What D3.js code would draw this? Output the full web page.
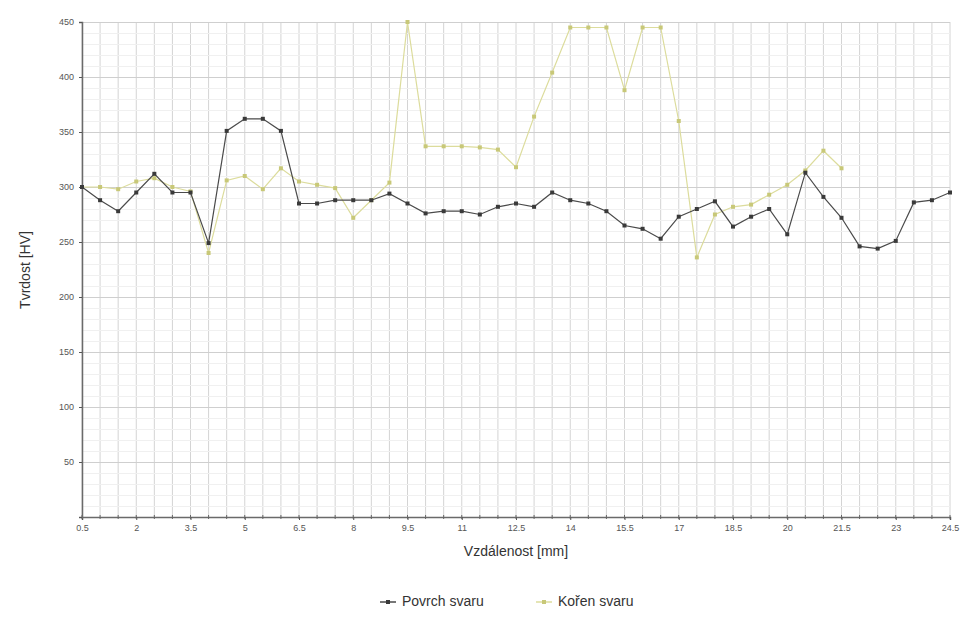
<!DOCTYPE html>
<html>
<head>
<meta charset="utf-8">
<script src="https://cdn.jsdelivr.net/npm/d3@7"></script>
<style>
  body { margin: 0; background: #fff; font-family: "Liberation Sans", Arial, sans-serif; }
</style>
</head>
<body>
<script>
// distances along the weld (mm)
var distances = [0.5,1,1.5,2,2.5,3,3.5,4,4.5,5,5.5,6,6.5,7,7.5,8,8.5,9,9.5,10,10.5,11,11.5,12,12.5,
  13,13.5,14,14.5,15,15.5,16,16.5,17,17.5,18,18.5,19,19.5,20,20.5,21,21.5,22,22.5,23,23.5,24,24.5]
// hardness HV - weld face
var povrchValues = [300,288,278,295,312,295,295,249,351,362,362,351,285,285,288,288,288,294,285,276,278,278,275,282,285,
  282,295,288,285,278,265,262,253,273,280,287,264,273,280,257,313,291,272,246,244,251,286,288,295]
// hardness HV - weld root (measured up to 21.5 mm)
var korenValues = [300,300,298,305,308,300,296,240,306,310,298,317,305,302,299,272,288,304,450,337,337,337,336,334,318,
  364,404,445,445,445,388,445,445,360,236,275,282,284,293,302,315,333,317]
var xTicks = [0.5,2,3.5,5,6.5,8,9.5,11,12.5,14,15.5,17,18.5,20,21.5,23,24.5]
var yTicks = [0,50,100,150,200,250,300,350,400,450]
var seriesNames = ['Povrch svaru', 'Kořen svaru']
var seriesColors = ['#4a4a4a', '#dcdc9c']

var W = 961, H = 624
var plotL = 82, plotR = 950, plotT = 18, plotB = 517

var svg = d3.select('body').append('svg').attr('width', W).attr('height', H).attr('id', 'svg0')

var x = d3.scaleLinear().domain([0.5, 24.5]).range([plotL, plotR])
var y = d3.scaleLinear().domain([0, 450]).range([plotB, plotT + 4])

// grid
var grid = svg.append('g').attr('id', 'grid')
grid.selectAll('.vgrid').data(distances).enter().append('line')
  .attr('x1', d => x(d)).attr('x2', d => x(d)).attr('y1', y(450)).attr('y2', plotB)
  .attr('stroke', '#d4d4d4').attr('stroke-width', 1)
grid.selectAll('.hminor').data(d3.range(10, 450, 10).filter(v => v % 50 != 0)).enter().append('line')
  .attr('x1', plotL).attr('x2', plotR).attr('y1', d => Math.round(y(d)) + 0.5).attr('y2', d => Math.round(y(d)) + 0.5)
  .attr('stroke', '#f0f0f0').attr('stroke-width', 1)
grid.selectAll('.hmajor').data(yTicks.slice(1)).enter().append('line')
  .attr('x1', plotL).attr('x2', plotR).attr('y1', d => Math.round(y(d)) + 0.5).attr('y2', d => Math.round(y(d)) + 0.5)
  .attr('stroke', '#cfcfcf').attr('stroke-width', 1)

// axes
var xAxis = svg.append('g').attr('transform', 'translate(0,' + plotB + ')')
  .call(d3.axisBottom(x).tickValues(xTicks).tickSize(3).tickFormat(d3.format('')))
var yAxis = svg.append('g').attr('transform', 'translate(' + plotL + ',0)')
  .call(d3.axisLeft(y).tickValues(yTicks).tickSize(3))
svg.selectAll('.domain').attr('stroke', '#6a6a6a').attr('stroke-width', 1.5)
svg.selectAll('.tick line').attr('stroke', '#555')
svg.selectAll('.tick text').attr('fill', '#555').style('font-size', '9px')
  .style('font-family', '"Liberation Sans", Arial, sans-serif')
yAxis.selectAll('.tick text').attr('x', -8)
xAxis.selectAll('.tick text').attr('y', 8)
yAxis.selectAll('.tick').filter(d => d == 0).select('text').remove()
// minor x ticks
xAxis.selectAll('.mtick').data(distances).enter().append('line')
  .attr('x1', d => x(d)).attr('x2', d => x(d)).attr('y1', -2).attr('y2', 2).attr('stroke', '#666')

// titles
svg.append('text').attr('x', (plotL + plotR) / 2).attr('y', 556).attr('text-anchor', 'middle')
  .style('font-size', '14px').attr('fill', '#333').text('Vzdálenost [mm]')
svg.append('text').attr('transform', 'translate(30,' + 270 + ') rotate(-90)').attr('text-anchor', 'middle')
  .style('font-size', '14px').attr('fill', '#333').text('Tvrdost [HV]')

// lines
var lineData = [
  {name: seriesNames[0], color: seriesColors[0], mark: '#3a3a3a', values: povrchValues.map((v, i) => ({d: distances[i], v: v}))},
  {name: seriesNames[1], color: seriesColors[1], mark: '#c8c878', values: korenValues.map((v, i) => ({d: distances[i], v: v}))}
]
var line = d3.line().x(p => x(p.d)).y(p => y(p.v))
var plot = svg.append('g').attr('id', 'plot')
// draw root first so surface lies on top
lineData.slice().reverse().forEach(s => {
  plot.append('path').datum(s.values).attr('d', line)
    .attr('fill', 'none').attr('stroke', s.color).attr('stroke-width', 1.2)
  plot.append('g').selectAll('rect').data(s.values).enter().append('rect')
    .attr('x', p => x(p.d) - 2).attr('y', p => y(p.v) - 2).attr('width', 4).attr('height', 4)
    .attr('fill', s.mark)
})

// legend
var legend = svg.append('g').attr('id', 'legend')
var legX = [380, 536]
lineData.forEach((s, i) => {
  var g = legend.append('g').attr('transform', 'translate(' + legX[i] + ',602)')
  g.append('line').attr('x1', 0).attr('x2', 16).attr('y1', 0).attr('y2', 0).attr('stroke', s.color).attr('stroke-width', 1.5)
  g.append('rect').attr('x', 6).attr('y', -2).attr('width', 4).attr('height', 4).attr('fill', s.mark)
  g.append('text').attr('x', 22).attr('y', 0).attr('dominant-baseline', 'middle')
    .style('font-size', '14px').attr('fill', '#333').text(s.name)
})
</script>
</body>
</html>
